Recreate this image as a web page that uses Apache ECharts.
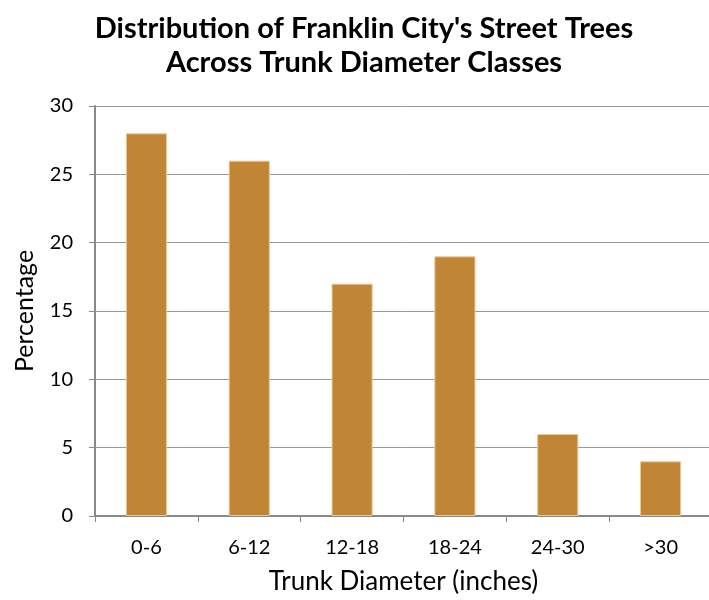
<!DOCTYPE html>
<html><head><meta charset="utf-8">
<script src="https://cdn.jsdelivr.net/npm/echarts@6/dist/echarts.min.js"></script>
<style>html,body{margin:0;padding:0;background:#fff}#c{width:709px;height:600px}</style>
</head><body><div id="c"></div>
<script>
const categories = ['0-6', '6-12', '12-18', '18-24', '24-30', '>30'];
const percentages = [28, 26, 17, 19, 6, 4];
const yTicks = { min: 0, max: 30, interval: 5 };
const FONT = 'Lato';
const chart = echarts.init(document.getElementById('c'));
chart.setOption({
  animation: false,
  title: {
    text: "Distribution of Franklin City's Street Trees\nAcross Trunk Diameter Classes",
    left: 359, top: 7, textAlign: 'center',
    textStyle: { fontFamily: FONT, fontWeight: 'bold', fontSize: 29, lineHeight: 34, color: '#000' }
  },
  grid: { left: 95, top: 106, width: 617, height: 410, containLabel: false, outerBoundsMode: 'none' },
  xAxis: {
    type: 'category', data: categories,
    name: 'Trunk Diameter (inches)', nameLocation: 'middle', nameGap: 53,
    nameTextStyle: { fontFamily: FONT, fontSize: 26, color: '#000' },
    axisLine: { lineStyle: { color: '#888', width: 2 } },
    axisTick: { show: true, length: 6, lineStyle: { color: '#888' } },
    axisLabel: { fontFamily: FONT, fontSize: 20, color: '#000', margin: 22 }
  },
  yAxis: {
    type: 'value', min: yTicks.min, max: yTicks.max, interval: yTicks.interval,
    name: 'Percentage', nameLocation: 'middle', nameGap: 58,
    nameTextStyle: { fontFamily: FONT, fontSize: 25, color: '#000' },
    axisLine: { show: true, lineStyle: { color: '#888', width: 2 } },
    axisTick: { show: true, length: 6, lineStyle: { color: '#888' } },
    axisLabel: { fontFamily: FONT, fontSize: 20, color: '#000', margin: 22 },
    splitLine: { show: true, lineStyle: { color: '#999', width: 1 } }
  },
  series: [{
    type: 'bar', data: percentages, barCategoryGap: '60%',
    itemStyle: { color: '#C18536', borderColor: '#EBC995', borderWidth: 1 }
  }]
});
</script></body></html>
